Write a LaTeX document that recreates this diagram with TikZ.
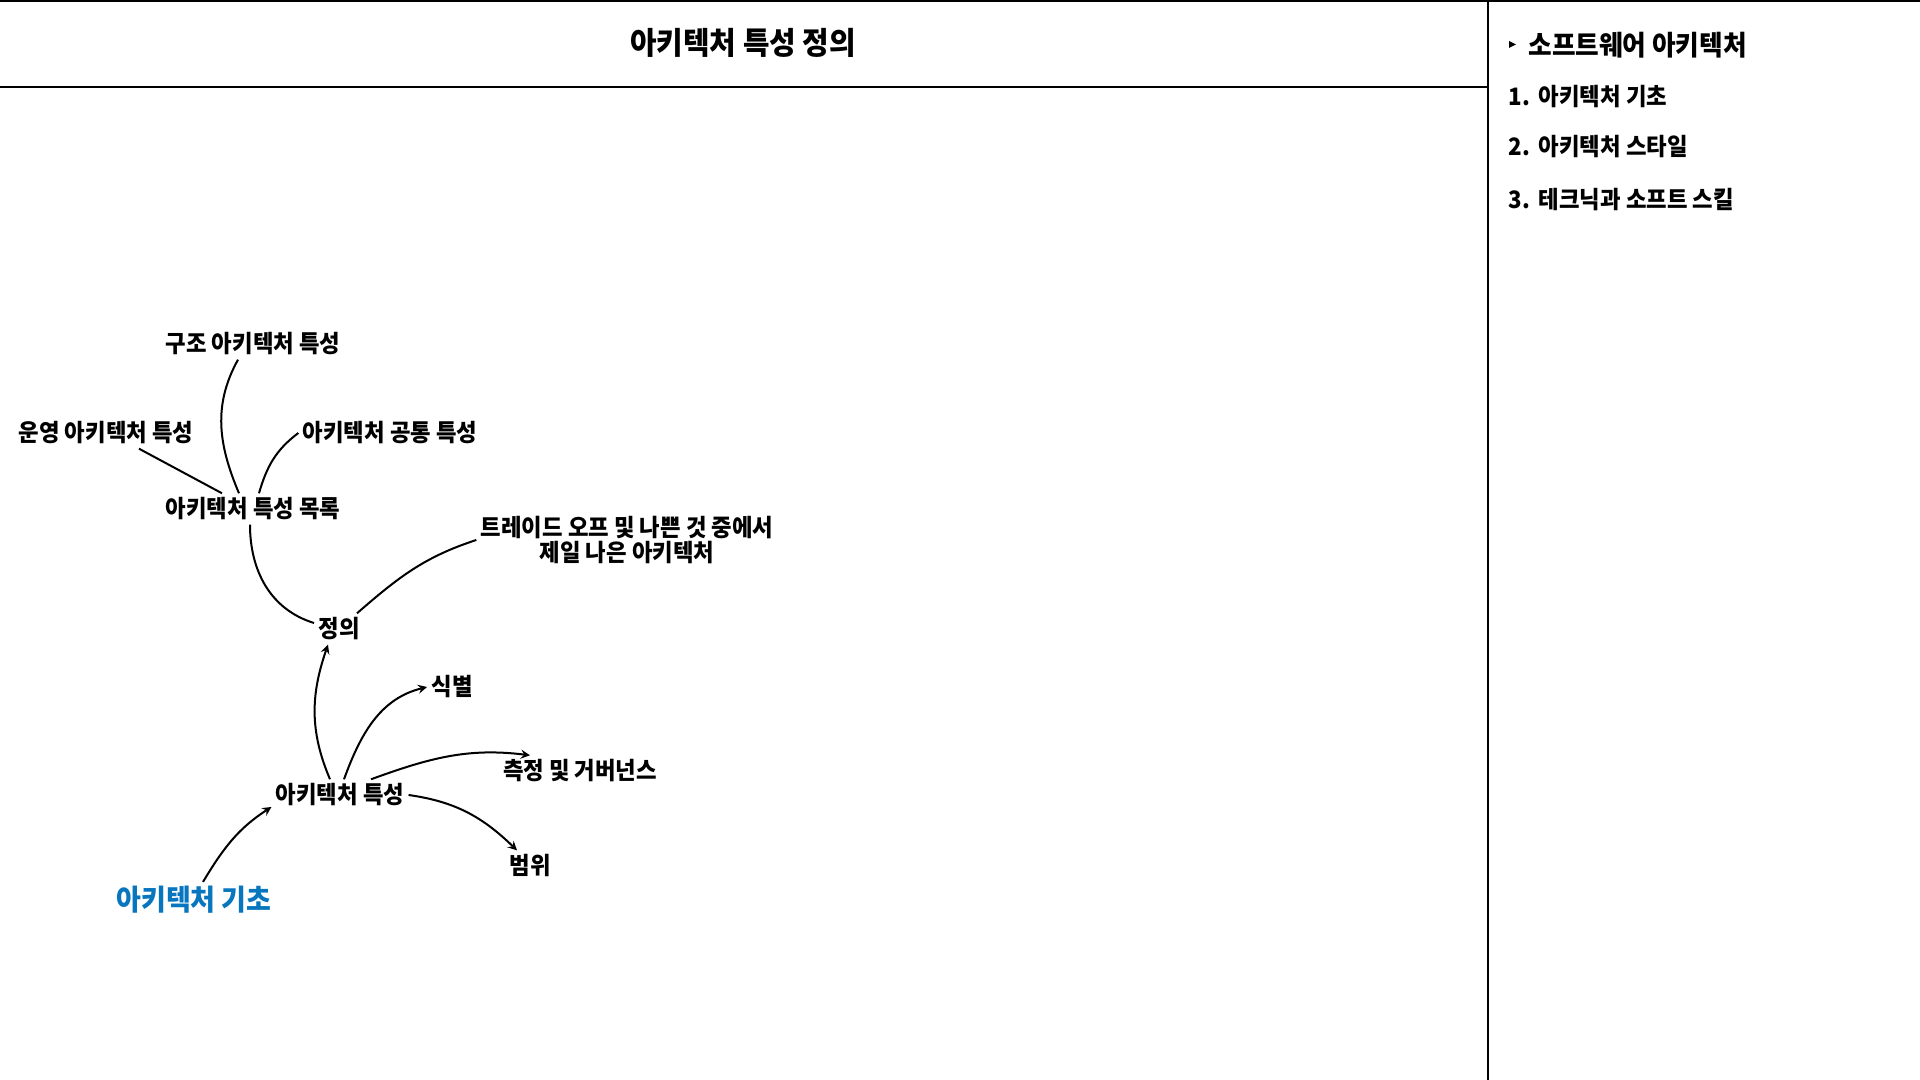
\documentclass[tikz,border=0pt]{standalone}
\usepackage{fontspec}
\setmainfont{Noto Sans CJK KR}[UprightFont=* Black, FakeStretch=0.93]
\usepackage{tikz}
\usetikzlibrary{arrows}
\tikzstyle{line} = [line width=1pt]
\tikzstyle{arrow} = [->,>=stealth,line width=1pt]
\tikzstyle{topic} = [inner sep=2pt,font=\fontsize{12pt}{12.5pt}\selectfont]
\tikzstyle{tocitem} = [anchor=west,inner sep=0pt,font=\fontsize{12pt}{12pt}\selectfont]
\definecolor{basicblue}{RGB}{8,118,190}

\begin{document}
\begin{tikzpicture}[x=0.5pt,y=0.5pt,every text node part/.style={align=center}]
  \useasboundingbox (0,0) rectangle (1920,1080);

  % --- frame
  \draw[line] (0,1079) -- (1920,1079);
  \draw[line] (0,993) -- (1488,993);
  \draw[line] (1488,1080) -- (1488,0);

  % --- title node
  \node[font=\fontsize{15.5pt}{15.5pt}\selectfont] (title) at (743,1037) {아키텍처 특성 정의};

  % --- table of contents
  \fill (1509,1039) -- (1516,1035.5) -- (1509,1032) -- cycle;
  \node[tocitem,font=\fontsize{13.8pt}{13.8pt}\selectfont] (toc) at (1528,1035) {소프트웨어 아키텍처};
  \node[tocitem] (toc1) at (1508,983) {1.\hspace{4.5pt}아키텍처 기초};
  \node[tocitem] (toc2) at (1508,933) {2.\hspace{4.5pt}아키텍처 스타일};
  \node[tocitem] (toc3) at (1508,880) {3.\hspace{4.5pt}테크닉과 소프트 스킬};

  % --- characteristic list nodes
  \node[topic] (gujo) at (253,736) {구조 아키텍처 특성};
  \node[topic] (unyeong) at (106,647) {운영 아키텍처 특성};
  \node[topic] (gongtong) at (390,647) {아키텍처 공통 특성};
  \node[topic] (mokrok) at (253,571) {아키텍처 특성 목록};
  \draw[line] ([xshift=-7.5pt]gujo.south) to[out=241,in=113] ([xshift=-7pt]mokrok.north);
  \draw[line] ([xshift=16.5pt]unyeong.south) -- ([xshift=-15.5pt]mokrok.north);
  \draw[line] (gongtong.west) to[out=217,in=74] ([xshift=3pt]mokrok.north);

  % --- definition node
  \node[topic] (tradeoff) at (627,540) {트레이드 오프 및 나쁜 것 중에서\\제일 나은 아키텍처};
  \node[topic] (jeongui) at (339,451) {정의};
  \draw[line] ([xshift=-1.5pt]mokrok.south) to[out=270,in=163] ([yshift=3pt]jeongui.west);
  \draw[line] (tradeoff.west) to[out=198,in=41] ([xshift=9pt]jeongui.north);

  % --- characteristics node
  \node[topic] (teukseong) at (340,285) {아키텍처 특성};
  \node[topic] (sikbyeol) at (452,393) {식별};
  \node[topic] (cheukjeong) at (580,309) {측정 및 거버넌스};
  \node[topic] (beomwi) at (530,214) {범위};
  \node[topic,text=basicblue,font=\fontsize{14.5pt}{14.5pt}\selectfont] (gicho) at (194,180) {아키텍처 기초};
  \draw[arrow] ([xshift=4.5pt]gicho.north) to[out=59,in=213] ([yshift=-6pt]teukseong.west);
  \draw[arrow] ([xshift=-5pt]teukseong.north) to[out=113,in=251] ([xshift=-5.5pt]jeongui.south);
  \draw[arrow] ([xshift=2pt]teukseong.north) to[out=70,in=194] (sikbyeol.west);
  \draw[arrow] ([xshift=15.5pt]teukseong.north) to[out=20,in=173] ([xshift=-25pt]cheukjeong.north);
  \draw[arrow] (teukseong.east) to[out=-8,in=136] ([xshift=-6.5pt]beomwi.north);

\end{tikzpicture}
\end{document}
